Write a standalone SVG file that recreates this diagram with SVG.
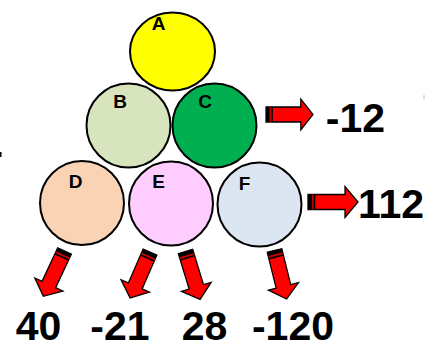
<svg xmlns="http://www.w3.org/2000/svg" width="426" height="344" viewBox="0 0 426 344">
<style>
.n{stroke:#000;stroke-width:2}
.lbl{font-family:"Liberation Sans",Arial,sans-serif;font-weight:bold;font-size:19px;fill:#000;text-anchor:middle}
.num{font-family:"Liberation Sans",Arial,sans-serif;font-weight:bold;font-size:41px;fill:#000;text-anchor:middle}
.ab{fill:#FF0000;stroke:#000;stroke-width:1.3;stroke-linejoin:miter}
</style>
<defs>
<g id="arr">
<path class="ab" d="M0,-7.5 H37 V-15.5 L50,0 L37,15.5 V7.5 H0 Z"/>
<rect x="0" y="-7.5" width="4" height="15" fill="#000"/>
<rect x="4" y="-7.5" width="1.7" height="15" fill="#C00000"/>
<rect x="5.7" y="-7.5" width="1.6" height="15" fill="#000"/>
</g>
</defs>
<rect x="0" y="152" width="1.5" height="5" fill="#000"/>
<rect x="423.5" y="95" width="1" height="4" fill="#bbb"/>
<g id="nodeA"><ellipse class="n" cx="172.5" cy="51.5" rx="42.5" ry="39" fill="#FFFF00"/><text class="lbl" x="158.5" y="30" font-size="20">A</text></g>
<g id="nodeB"><circle class="n" cx="128.5" cy="125.5" r="42" fill="#D7E4BD"/><text class="lbl" x="120" y="108">B</text></g>
<g id="nodeC"><circle class="n" cx="214.5" cy="125.5" r="42" fill="#00B050"/><text class="lbl" x="205" y="108">C</text></g>
<g id="nodeD"><circle class="n" cx="82" cy="203" r="42" fill="#FAD2B4"/><text class="lbl" x="75.5" y="188">D</text></g>
<g id="nodeE"><circle class="n" cx="171" cy="203.5" r="42" fill="#FFCCFF"/><text class="lbl" x="158.5" y="188">E</text></g>
<g id="nodeF"><circle class="n" cx="259.5" cy="204.5" r="42" fill="#DCE6F2"/><text class="lbl" x="244.5" y="190">F</text></g>
<g id="connectors">
<use href="#arr" transform="translate(266,114.5) scale(0.94,1)"/>
<use href="#arr" transform="translate(308,202)"/>
<use href="#arr" transform="translate(64.5,251) rotate(115)"/>
<use href="#arr" transform="translate(150,252) rotate(113.5)"/>
<use href="#arr" transform="translate(185.5,251.5) rotate(73)"/>
<use href="#arr" transform="translate(274.5,250.5) rotate(76)"/>
</g>
<g id="values">
<text class="num" x="355.5" y="132">-12</text>
<text class="num" x="391" y="218">112</text>
<text class="num" x="38.5" y="340">40</text>
<text class="num" x="120" y="340">-21</text>
<text class="num" x="204.5" y="340">28</text>
<text class="num" x="293" y="340">-120</text>
</g>
</svg>
